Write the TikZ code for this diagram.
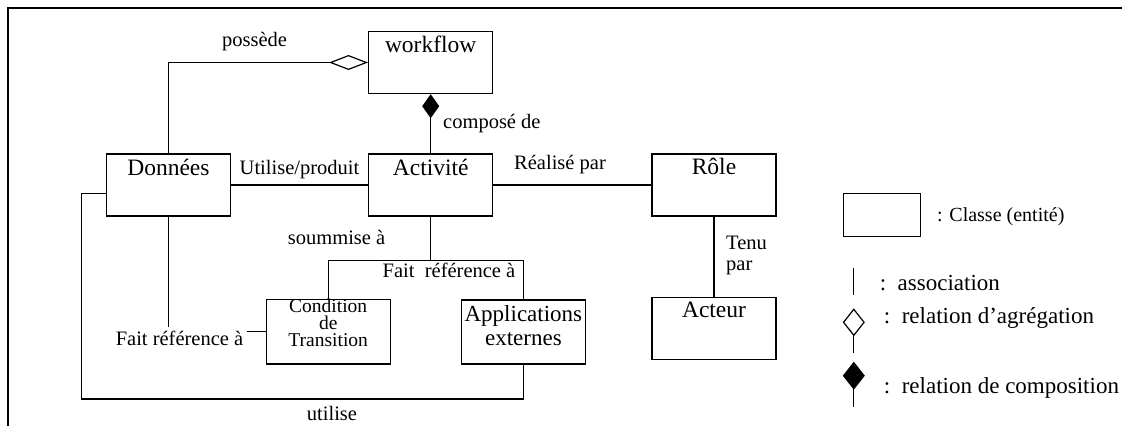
\documentclass[tikz,border=0pt]{standalone}
\usepackage{fontspec}
\setmainfont{Liberation Serif}
\usetikzlibrary{arrows.meta}

\begin{document}
\begin{tikzpicture}[x=1pt,y=-1pt,
   classe/.style={draw,line width=1.4pt,inner sep=0pt,minimum width=124pt,minimum height=62pt},
   titre/.style={anchor=base,inner sep=0pt,font=\fontsize{23.5}{25}\selectfont},
   lien/.style={line width=1.2pt},
   etiq/.style={inner sep=0pt,font=\fontsize{20.5}{21}\selectfont},
   leg/.style={anchor=west,inner sep=0pt,font=\fontsize{23}{24}\selectfont}]
   \useasboundingbox (0,0) rectangle (1122,426);
   \draw[line width=2pt] (7.5,426) -- (7.5,8) -- (1122,8);
   % classes
   \node[classe] (workflow) at (430.7,62.5) {};
   \node[classe] (donnees)  at (168.4,185) {};
   \node[classe] (activite) at (430.7,185) {};
   \node[classe] (role)     at (714,185) {};
   \node[classe,minimum height=64.7pt] (cond)  at (328.2,331.7) {};
   \node[classe,minimum height=64pt]   (appli) at (523.4,332) {};
   \node[classe] (acteur)   at (714,328.2) {};
   \node[titre] at ([yshift=-22pt]workflow.north) {workflow};
   \node[titre] at ([yshift=-22pt]donnees.north) {Données};
   \node[titre] at ([yshift=-22pt]activite.north) {Activité};
   \node[titre] at ([yshift=-21pt]role.north) {Rôle};
   \node[titre] at ([yshift=-21pt]acteur.north) {Acteur};
   \node[titre,anchor=north,align=center,font=\fontsize{23}{24}\selectfont]
     at ([yshift=-6pt]appli.north) {Applications\\externes};
   \node[titre,anchor=north,align=center,font=\fontsize{19.5}{17}\selectfont]
     at ([yshift=-0.5pt]cond.north) {Condition\\de\\Transition};
   % labels
   \node[etiq] (possede) at (254.5,41.7) {possède};
   \node[etiq,anchor=west] (compose) at (443,123.3) {composé de};
   \node[etiq] (utilise) at (299.5,170) {Utilise/produit};
   \node[etiq] (realise) at (560,165) {Réalisé par};
   \node[etiq] (soumis) at (336.6,237.3) {soummise à};
   \node[etiq] (fref2) at (449,270) {Fait\ \ référence à};
   \node[etiq,inner sep=4pt] (fref1) at (179.5,338.3) {Fait référence à};
   \node[etiq] (util) at (332,413) {utilise};
   \node[etiq,anchor=north west,align=left] (tenu) at (726,236) {Tenu\\par};
   % associations
   \draw[lien,{Diamond[open,length=39pt,width=15pt]}-] (workflow.west) -| (donnees.north);
   \draw[lien,{Diamond[length=24pt,width=17pt]}-] (workflow.south) -- (activite.north);
   \draw[lien] (donnees.east) -- (activite.west);
   \draw[lien] (activite.east) -- (role.west);
   \draw[lien] (role.south) -- (acteur.north);
   \draw[lien] (activite.south) -- ++(0,43.6) coordinate (fourche);
   \draw[lien] (fourche) -| (cond.north);
   \draw[lien] (fourche) -| (appli.north);
   \draw[lien] (donnees.south) -- (donnees.south |- fref1.north);
   \draw[lien] (fref1.east |- cond.west) -- (cond.west);
   \coordinate (coin) at (81.4,399);
   \draw[lien] ([yshift=-8.3pt]donnees.west) -| (coin) -| (appli.south);
   % legende
   \node[draw,line width=1.4pt,inner sep=0pt,minimum width=77pt,minimum height=43.4pt] (lclasse) at (882,215) {};
   \node[leg,font=\fontsize{20}{21}\selectfont] at (937,216.7) {: Classe (entité)};
   \coordinate (la1) at (853.8,268.3);
   \coordinate (la2) at (853.8,295);
   \draw[lien] (la1) -- (la2);
   \node[leg] at (879.6,283.3) {:\enspace association};
   \coordinate (lg1) at (853.8,308.3);
   \coordinate (lg2) at (853.8,353.3);
   \draw[lien,{Diamond[open,length=28pt,width=22pt]}-] (lg1) -- (lg2);
   \node[leg] at (883.7,318.3) {:\enspace relation d'agrégation};
   \coordinate (lc1) at (853.8,361.7);
   \coordinate (lc2) at (853.8,406.7);
   \draw[lien,{Diamond[length=28pt,width=22pt]}-] (lc1) -- (lc2);
   \node[leg] at (883.7,388.3) {:\enspace relation de composition};
\end{tikzpicture}
\end{document}
